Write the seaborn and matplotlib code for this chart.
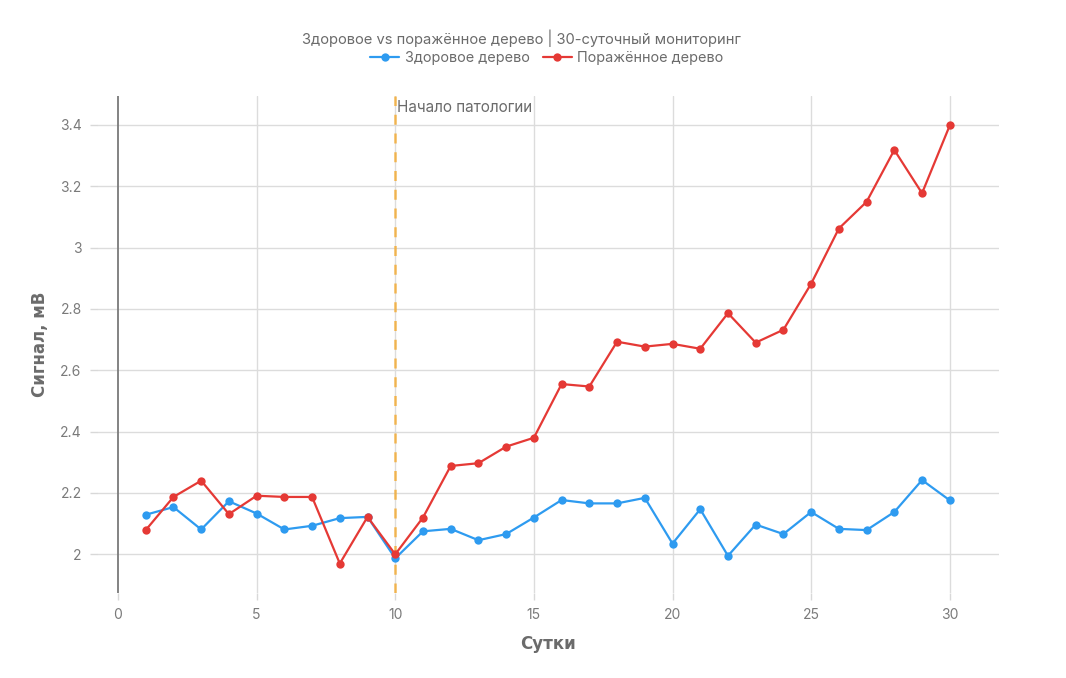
import numpy as np
import pandas as pd
import matplotlib
matplotlib.use("Agg")
import matplotlib.pyplot as plt
from matplotlib.ticker import FuncFormatter
import seaborn as sns

# data
days = list(range(1, 31))
healthy = [2.129, 2.154, 2.081, 2.173, 2.133, 2.081, 2.093, 2.118, 2.122, 1.987,
           2.075, 2.083, 2.046, 2.066, 2.120, 2.177, 2.166, 2.166, 2.184, 2.035,
           2.147, 1.995, 2.097, 2.066, 2.138, 2.083, 2.079, 2.138, 2.242, 2.176]
diseased = [2.079, 2.187, 2.240, 2.131, 2.191, 2.187, 2.187, 1.970, 2.122, 2.000,
            2.120, 2.288, 2.297, 2.351, 2.380, 2.555, 2.547, 2.693, 2.677, 2.686,
            2.670, 2.786, 2.690, 2.732, 2.882, 3.062, 3.149, 3.318, 3.177, 3.398]
series_names = ["Здоровое дерево", "Поражённое дерево"]
pathology_day = 10
y_ticks = [2.0, 2.2, 2.4, 2.6, 2.8, 3.0, 3.2, 3.4]
x_ticks = [0, 5, 10, 15, 20, 25, 30]

df = pd.DataFrame({
    "day": days * 2,
    "signal": healthy + diseased,
    "tree": [series_names[0]] * len(days) + [series_names[1]] * len(days),
})

sns.set_theme(style="white")
plt.rcParams["font.family"] = ["Inter", "DejaVu Sans"]

text_grey = "#6b6b6b"
tick_grey = "#7a7a7a"
palette = {series_names[0]: "#2e9bf0", series_names[1]: "#e53935"}

fig = plt.figure(figsize=(10.66, 6.78), dpi=100)
ax = fig.add_axes([0.091, 0.1254, 0.846, 0.7326])

# grid and zero line
for t in y_ticks:
    ax.axhline(t, color="#dcdcdc", lw=1, zorder=0)
for t in x_ticks[1:]:
    ax.axvline(t, color="#dcdcdc", lw=1, zorder=0)
ax.axvline(0, color="#7a7a7a", lw=1.3, zorder=1)

sns.lineplot(
    data=df, x="day", y="signal", hue="tree", palette=palette,
    marker="o", markersize=6, markeredgewidth=0, linewidth=1.6,
    ax=ax, zorder=3,
)

ax.axvline(pathology_day, color="#f5a623", lw=1.8, ls=(0, (4, 3.5)), alpha=0.75, zorder=2)
ax.text(pathology_day + 0.07, 3.482, "Начало патологии", color=text_grey,
        fontsize=11, ha="left", va="top")

ax.set_xlim(-0.757, 31.77)
ax.set_ylim(1.874, 3.493)
ax.set_xticks(x_ticks)
ax.set_yticks(y_ticks)
ax.yaxis.set_major_formatter(FuncFormatter(lambda v, p: f"{v:g}"))
ax.tick_params(axis="both", which="major", length=5, width=1, color="#d8d8d8",
               labelcolor=tick_grey, labelsize=10, direction="out", pad=6)
ax.tick_params(axis="x", bottom=True)
ax.tick_params(axis="y", left=True)
for s in ax.spines.values():
    s.set_visible(False)

ax.set_xlabel("Сутки", fontsize=12, fontweight="bold", color=text_grey,
              family="DejaVu Sans", labelpad=9)
ax.set_ylabel("Сигнал, мВ", fontsize=12, fontweight="bold", color=text_grey,
              family="DejaVu Sans", labelpad=8)

fig.text(0.489, 0.944, "Здоровое vs поражённое дерево | 30-суточный мониторинг",
         ha="center", va="center", fontsize=10.6, color=text_grey)

handles, labels = ax.get_legend_handles_labels()
leg = ax.legend(handles, labels, ncol=2, frameon=False, loc="center",
                bbox_to_anchor=(0.513, 0.914), bbox_transform=fig.transFigure,
                fontsize=10.4, handlelength=2.0, handletextpad=0.4,
                columnspacing=0.9, labelcolor=text_grey)

fig.savefig("out.png", dpi=100)
